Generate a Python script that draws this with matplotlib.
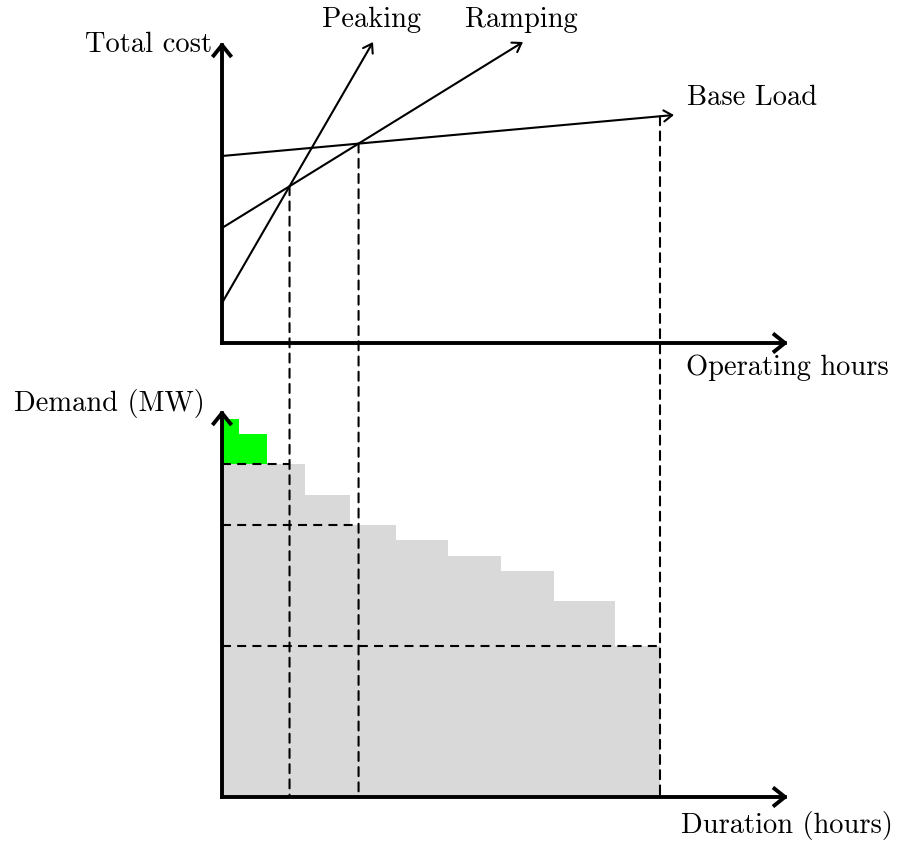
import numpy as np
import matplotlib
matplotlib.use("Agg")
import matplotlib.pyplot as plt
from matplotlib.patches import ConnectionPatch

plt.rcParams['font.family'] = 'cmr10'
plt.rcParams['mathtext.fontset'] = 'cm'
plt.rcParams['axes.formatter.use_mathtext'] = True

# --- data (schematic units) ---
hours_max = 11320      # end of the operating hours / duration axes
cost_max = 301         # top of the cost axis
demand_max = 387       # top of the demand axis

tech_names = ['Base Load', 'Ramping', 'Peaking']
fixed_cost = [187, 115, 40]          # cost at 0 hours
end_hours = [9040, 6020, 3020]       # where each cost line's arrow ends
end_cost = [228, 301, 301]

duration_edges = [0, 340, 900, 1660, 2560, 3480, 4520, 5580, 6640, 7860, 8760]
demand = [378, 363, 333, 302, 272, 257, 241, 226, 196, 151]
level_labels = ['Peaking', 'Ramping', 'Base Load']
levels = [333, 272, 151]              # demand levels covered by each technology
year_hours = 8760

W, H = 897, 841
fig = plt.figure(figsize=(W / 100, H / 100), dpi=100)
ax_top = fig.add_axes([222 / W, (H - 343) / H, 566 / W, 301 / H])
ax_bot = fig.add_axes([222 / W, (H - 797) / H, 566 / W, 387 / H])

ax_top.set_xlim(0, hours_max)
ax_top.set_ylim(0, cost_max)
ax_bot.set_xlim(0, hours_max)
ax_bot.set_ylim(0, demand_max)
for ax in (ax_top, ax_bot):
    ax.axis('off')

FS = 20.5
dash = (0, (4.3, 3.0))

# thick axes with arrow heads
axis_arrow = dict(arrowstyle='->,head_length=0.75,head_width=0.6', lw=2.8,
                  color='black', shrinkA=0, shrinkB=0, capstyle='projecting')
for ax in (ax_top, ax_bot):
    ax.annotate('', xy=(1, 0), xytext=(0, 0), xycoords='axes fraction',
                arrowprops=axis_arrow, annotation_clip=False)
    ax.annotate('', xy=(0, 1), xytext=(0, 0), xycoords='axes fraction',
                arrowprops=axis_arrow, annotation_clip=False)

# cost lines
slopes = [(c1 - c0) / h for c0, c1, h in zip(fixed_cost, end_cost, end_hours)]
thin_arrow = dict(arrowstyle='->,head_length=0.6,head_width=0.4', lw=1.5,
                  color='black', shrinkA=0, shrinkB=0)
for name, c0, h, c1 in zip(tech_names, fixed_cost, end_hours, end_cost):
    ax_top.annotate('', xy=(h, c1), xytext=(0, c0), arrowprops=thin_arrow,
                    annotation_clip=False)
    if name == 'Base Load':
        ax_top.annotate(name, xy=(h, c1), xytext=(13, 17), textcoords='offset pixels',
                        ha='left', va='center', fontsize=FS, annotation_clip=False)
    else:
        ax_top.annotate(name, xy=(h, c1), xytext=(-2, 22), textcoords='offset pixels',
                        ha='center', va='center', fontsize=FS, annotation_clip=False)

# crossover points between cost lines
b0, r0, p0 = fixed_cost
bs, rs, ps = slopes
x_pr = (r0 - p0) / (ps - rs)
x_rb = (b0 - r0) / (rs - bs)
cross_x = [x_pr, x_rb, year_hours]
cross_c = [p0 + ps * x_pr, r0 + rs * x_rb, b0 + bs * year_hours]

# load duration curve
edges = np.array(duration_edges)
widths = np.diff(edges)
dem = np.array(demand)
peak = levels[0]
ax_bot.bar(edges[:-1], np.minimum(dem, peak), width=widths, align='edge',
           color='#d9d9d9', linewidth=0, zorder=1)
ax_bot.bar(edges[:-1], np.clip(dem - peak, 0, None), bottom=peak, width=widths,
           align='edge', color='#00ff00', linewidth=0, zorder=1)

# dashed guides
for x, c, lev in zip(cross_x, cross_c, levels):
    ax_bot.plot([0, x], [lev, lev], color='black', lw=1.5, linestyle=dash, zorder=2)
    con = ConnectionPatch(xyA=(x, c), coordsA=ax_top.transData,
                          xyB=(x, 0), coordsB=ax_bot.transData,
                          color='black', lw=1.5, linestyle=dash, zorder=2)
    fig.add_artist(con)

# axis labels
ax_top.annotate('Total cost', xy=(0, 1), xycoords='axes fraction', xytext=(-10, -3),
                textcoords='offset pixels', ha='right', va='center', fontsize=FS)
ax_top.annotate('Operating hours', xy=(1, 0), xycoords='axes fraction', xytext=(-102, -25),
                textcoords='offset pixels', ha='left', va='center', fontsize=FS)
ax_bot.annotate('Demand (MW)', xy=(0, 1), xycoords='axes fraction', xytext=(-17, 7),
                textcoords='offset pixels', ha='right', va='center', fontsize=FS)
ax_bot.annotate('Duration (hours)', xy=(1, 0), xycoords='axes fraction', xytext=(-107, -28),
                textcoords='offset pixels', ha='left', va='center', fontsize=FS)

fig.savefig('out.png', dpi=100)
